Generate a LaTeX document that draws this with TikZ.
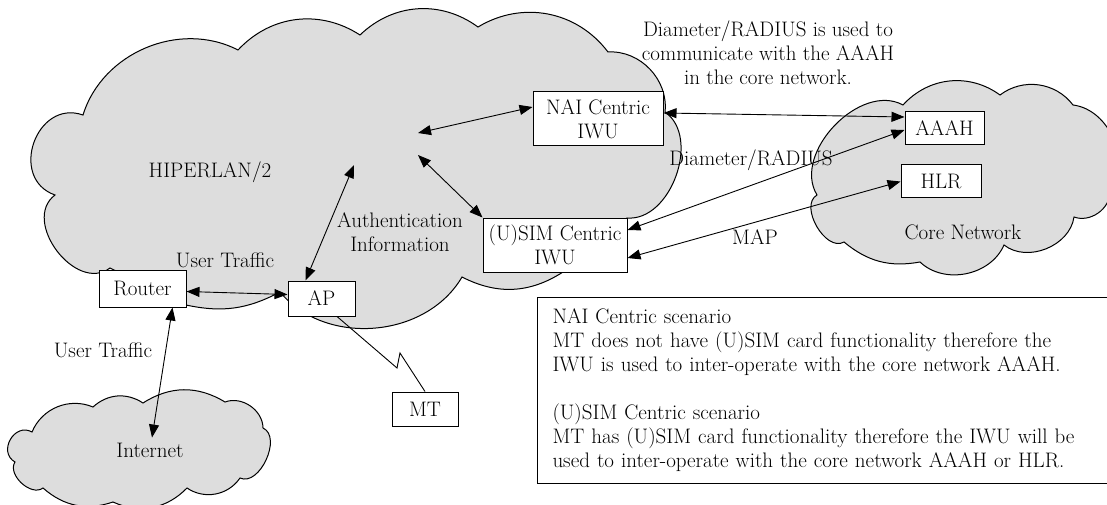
\documentclass[tikz,border=0pt]{standalone}
\usetikzlibrary{arrows.meta,calc}
\definecolor{cloudfill}{RGB}{221,221,221}
\begin{document}
\begin{tikzpicture}[x=1pt,y=1pt,
  font=\fontsize{21}{24}\selectfont,
  box/.style={draw=black, fill=white, line width=1pt, inner sep=0pt, align=center},
  lbl/.style={inner sep=0pt, align=center},
  link/.style={line width=0.9pt, {Triangle[length=13pt,width=10pt]}-{Triangle[length=13pt,width=10pt]}},
  cloud/.style={draw=black, fill=cloudfill, line width=1pt}]
\useasboundingbox (0,0) rectangle (1107,504);
\fill[white] (0,0) rectangle (1107,504);
\clip (0,0) rectangle (1107,504);

% HIPERLAN/2 access network
\path[cloud] (83,389) to[bend left=50] (238,454) to[bend left=40] (360,469)
  to[bend left=40] (478,477) to[bend left=42] (608,452) to[bend left=50] (665,392)
  to[bend left=75] (627,286) -- (563,232) to[bend left=30] (462,227)
  to[bend left=55] (280,212) to[bend left=20] (186,199) -- (110,236)
  to[bend left=90,looseness=1.2] (55,309) to[bend left=90,looseness=1.5] cycle;

% core network
\path[cloud] (903,399) to[bend left=42] (1000,409) to[bend left=45] (1073,399)
  to[bend left=60] (1110,312) to[bend left=55] (1074,287) to[bend left=60] (1004,259)
  to[bend left=55] (920,242) to[bend left=25] (844,262) to[bend left=90] (817,309)
  to[bend left=75] cycle;

% internet
\path[cloud] (32,72) to[bend left=45] (93,97) to[bend left=38] (143,101)
  to[bend left=32] (225,102) to[bend left=55] (263,76) to[bend left=90] (240,26)
  to[bend left=45] (187,16) to[bend left=35] (113,2) to[bend left=30] (43,16)
  to[bend left=80] (15,42) to[bend left=90,looseness=1.5] cycle;

% network elements
\node[box, minimum width=130pt, minimum height=54pt] (nai) at (598,385) {NAI Centric\\IWU};
\node[box, minimum width=144pt, minimum height=54pt] (usim) at (555,259) {(U)SIM Centric\\IWU};
\node[box, minimum width=67pt, minimum height=35pt] (ap) at (321.5,205.5) {AP};
\node[box, minimum width=87pt, minimum height=37pt] (router) at (142.5,215.5) {Router};
\node[box, minimum width=66pt, minimum height=34pt] (mt) at (425,95) {MT};
\node[box, minimum width=79pt, minimum height=33pt] (aaah) at (944.5,375.5) {AAAH};
\node[box, minimum width=80pt, minimum height=33pt] (hlr) at (941,322.5) {HLR};

% scenario description
\node[draw=black, line width=1pt, fill=white, anchor=north west, text width=550pt,
      inner xsep=15pt, inner ysep=0pt, minimum height=186pt, align=left] (note) at (537,207)
  {NAI Centric scenario\\
   MT does not have (U)SIM card functionality therefore the\\
   IWU is used to inter-operate with the core network AAAH.\\[24pt]
   (U)SIM Centric scenario\\
   MT has (U)SIM card functionality therefore the IWU will be\\
   used to inter-operate with the core network AAAH or HLR.};

% labels
\node[lbl] (hiperlan) at (210,332) {HIPERLAN/2};
\node[lbl] (auth) at (400,272) {Authentication\\Information};
\node[lbl] (ut1) at (225,244) {User Traffic};
\node[lbl] (ut2) at (103,154) {User Traffic};
\node[lbl] (diamnote) at (768,451) {Diameter/RADIUS is used to\\communicate with the AAAH\\in the core network.};
\node[lbl] (diam) at (751,344) {Diameter/RADIUS};
\node[lbl] (map) at (755,267) {MAP};
\node[lbl] (core) at (963,272) {Core Network};
\node[lbl] (internet) at (150,54) {Internet};

% free ends inside the access network and radio link bends
\coordinate (f1) at (418,371);
\coordinate (f2) at (418,349);
\coordinate (f3) at (354,339);
\coordinate (zz1) at (397,136);
\coordinate (zz2) at (400,151);

% connectors
\draw[link] (f1) -- ([yshift=12pt]nai.west);
\draw[link] (f2) -- (usim.north west);
\draw[link] (f3) -- ([xshift=-16pt]ap.north);
\draw[link] ([yshift=-3pt]router.east) -- ([yshift=4pt]ap.west);
\draw[link] ([xshift=30pt]router.south) -- ([xshift=2pt,yshift=5pt]internet.north);
\draw[link] ([yshift=6pt]nai.east) -- ([yshift=11.5pt]aaah.west);
\draw[link] ([yshift=15pt]usim.east) -- ([yshift=-1.5pt]aaah.west);
\draw[link] ([yshift=-13pt]usim.east) -- (hlr.west);
\draw[line width=0.9pt] ([xshift=15.5pt]ap.south) -- (zz1) -- (zz2) -- (mt.north);
\end{tikzpicture}
\end{document}
